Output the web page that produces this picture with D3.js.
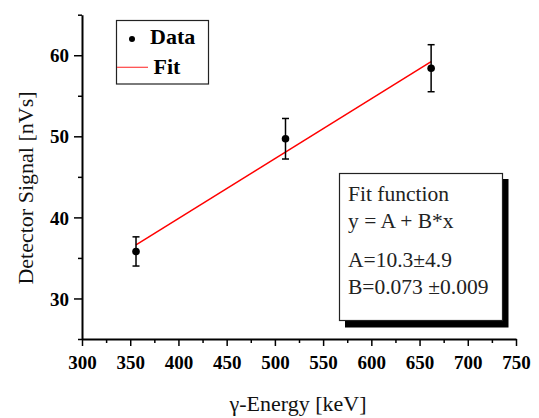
<!DOCTYPE html>
<html><head><meta charset="utf-8">
<script src="https://cdn.jsdelivr.net/npm/d3@7"></script>
<style>
body{margin:0;background:#fff;}
svg{display:block;}
svg text{font-family:"Liberation Serif","Times New Roman",Times,serif !important;}
</style></head>
<body>
<svg id="chart" width="539" height="418"></svg>
<script>
// data
const energies = [356, 511, 662];
const signals = [35.8, 49.7, 58.4];
const errors = [1.8, 2.5, 2.9];
const fitX = [356, 662];
const fitY = [36.6, 59.2];
const xMajorTicks = [300, 350, 400, 450, 500, 550, 600, 650, 700, 750];
const xMinorTicks = [325, 375, 425, 475, 525, 575, 625, 675, 725];
const yMajorTicks = [30, 40, 50, 60];
const yMinorTicks = [25, 35, 45, 55, 65];
const fitText = ["Fit function", "y = A + B*x", "A=10.3\u00b14.9", "B=0.073 \u00b10.009"];

const FF = "Liberation Serif, Times New Roman, serif";
const svg = d3.select("#chart");
const x = d3.scaleLinear().domain([300, 750]).range([82, 516]);
const y = d3.scaleLinear().domain([25, 65]).range([339, 14.7]);

function styleText(sel, size, weight, fill) {
  return sel.attr("font-family", FF).attr("font-size", size).attr("font-weight", weight).attr("fill", fill);
}

// x axis
const gx = svg.append("g").attr("transform", "translate(0,339)");
gx.call(d3.axisBottom(x).tickValues(xMajorTicks).tickSize(7).tickSizeOuter(0).tickPadding(5).tickFormat(d3.format("d")));
gx.append("g").call(d3.axisBottom(x).tickValues(xMinorTicks).tickSize(4).tickSizeOuter(0).tickFormat(""))
  .select(".domain").remove();
gx.attr("font-family", FF).attr("font-size", 19);
styleText(gx.selectAll("text"), 19, "bold", "#000").attr("dy", "0.95em");
gx.selectAll("line").attr("stroke", "#000").attr("stroke-width", 1.5);
gx.select(".domain").attr("stroke", "#000").attr("stroke-width", 2);

// y axis
const gy = svg.append("g").attr("transform", "translate(82,0)");
gy.call(d3.axisLeft(y).tickValues(yMajorTicks).tickSize(8).tickSizeOuter(0).tickPadding(5).tickFormat(d3.format("d")));
gy.append("g").call(d3.axisLeft(y).tickValues(yMinorTicks).tickSize(4).tickSizeOuter(0).tickFormat(""))
  .select(".domain").remove();
gy.attr("font-family", FF).attr("font-size", 19);
styleText(gy.selectAll("text"), 19, "bold", "#000").attr("dy", "0.35em");
gy.selectAll("line").attr("stroke", "#000").attr("stroke-width", 1.5);
gy.select(".domain").attr("stroke", "#000").attr("stroke-width", 2);

// axis titles
styleText(svg.append("text"), 22, "normal", "#111")
  .attr("x", 298).attr("y", 411).attr("text-anchor", "middle").text("\u03b3-Energy [keV]");
styleText(svg.append("text"), 22, "normal", "#111")
  .attr("transform", "translate(33,188) rotate(-90)").attr("text-anchor", "middle").text("Detector Signal [nVs]");

// fit line
svg.append("path")
  .datum(fitX.map((d, i) => [d, fitY[i]]))
  .attr("d", d3.line().x(d => x(d[0])).y(d => y(d[1])))
  .attr("fill", "none").attr("stroke", "#ff0000").attr("stroke-width", 1.5);

// error bars
const pts = energies.map((e, i) => ({e, s: signals[i], err: errors[i]}));
const eb = svg.append("g").attr("stroke", "#000").attr("stroke-width", 1.5);
pts.forEach(p => {
  eb.append("line").attr("x1", x(p.e)).attr("x2", x(p.e)).attr("y1", y(p.s - p.err)).attr("y2", y(p.s + p.err));
  eb.append("line").attr("x1", x(p.e) - 3.5).attr("x2", x(p.e) + 3.5).attr("y1", y(p.s - p.err)).attr("y2", y(p.s - p.err));
  eb.append("line").attr("x1", x(p.e) - 3.5).attr("x2", x(p.e) + 3.5).attr("y1", y(p.s + p.err)).attr("y2", y(p.s + p.err));
});
svg.append("g").selectAll("circle").data(pts).join("circle")
  .attr("cx", d => x(d.e)).attr("cy", d => y(d.s)).attr("r", 3.8).attr("fill", "#000");

// legend
const lg = svg.append("g");
lg.append("rect").attr("x", 116.5).attr("y", 20.5).attr("width", 92).attr("height", 63.5)
  .attr("fill", "#fff").attr("stroke", "#222").attr("stroke-width", 1.2);
lg.append("circle").attr("cx", 132).attr("cy", 39).attr("r", 3).attr("fill", "#000");
styleText(lg.append("text"), 22, "bold", "#000").attr("x", 150).attr("y", 43.5).text("Data");
lg.append("line").attr("x1", 117).attr("x2", 148).attr("y1", 67.3).attr("y2", 67.3).attr("stroke", "#ff4444").attr("stroke-width", 1.2);
styleText(lg.append("text"), 22, "bold", "#000").attr("x", 153.5).attr("y", 73.5).text("Fit");

// fit box
const fb = svg.append("g");
fb.append("rect").attr("x", 345).attr("y", 179).attr("width", 163.5).attr("height", 148.5).attr("fill", "#000");
fb.append("rect").attr("x", 339.5).attr("y", 173.5).attr("width", 163).attr("height", 147)
  .attr("fill", "#fff").attr("stroke", "#222").attr("stroke-width", 1.2);
const baselines = [201, 228.3, 266.7, 294];
styleText(fb.selectAll("text.ft").data(fitText).join("text").attr("class", "ft"), 21.5, "normal", "#222")
  .attr("x", 348).attr("y", (d, i) => baselines[i]).text(d => d);
</script>
</body></html>
